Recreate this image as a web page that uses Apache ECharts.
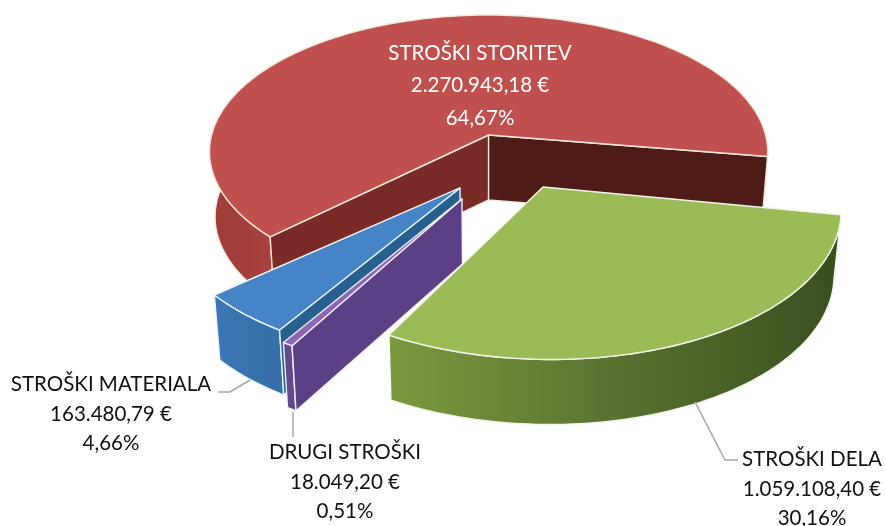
<!DOCTYPE html>
<html>
<head>
<meta charset="utf-8">
<style>
  html, body { margin: 0; padding: 0; background: #fff; }
  #chart { width: 886px; height: 526px; }
</style>
</head>
<body>
<div id="chart"></div>
<script src="https://cdn.jsdelivr.net/npm/echarts@6/dist/echarts.min.js"></script>
<script>
// drawing order: far slice first, green last because it sits over the purple edge
const names = ['STROŠKI STORITEV', 'STROŠKI MATERIALA', 'DRUGI STROŠKI', 'STROŠKI DELA'];
const amounts = [2270943.18, 163480.79, 18049.20, 1059108.40];
const amountLabels = ['2.270.943,18 €', '163.480,79 €', '18.049,20 €', '1.059.108,40 €'];
const percentLabels = ['64,67%', '4,66%', '0,51%', '30,16%'];

// pie projection: disc plane seen in perspective, anchored on the red slice tip
const view = { x: 488.6, y: 135, rx: 277, ry: 134.7, persp: 0.1227, depth: 65, floor: 0.98 };

// look of each slice, same order as names
const looks = [
  {
    start: 136.2, tip: [0, 0], stretch: 1, top: '#c0504d', edge: '#efe8dc',
    outer: ['#9d3c38', '#a8423e'],
    sides: ['start', 'end'], sideFill: ['#7a2a27', '#4f1b16'],
    textX: 480, textY: 85.5, lineHeight: 32.5, color: '#fff'
  },
  {
    start: 122.4, tip: [-0.0985, 0.375], stretch: 1.012, top: '#4584c6', edge: '#eef3f8',
    outer: ['#3b77b5', '#366fa8'],
    sides: ['start'], sideFill: ['#25608f'],
    textX: 111, textY: 414, lineHeight: 29.5, color: '#111',
    leader: [[250, 380], [230, 392], [218, 392]]
  },
  {
    start: 120.3, tip: [-0.0908, 0.449], stretch: 1, top: '#8a68b4', edge: '#f3eef8',
    outer: ['#5f4a8c', '#5f4a8c'],
    sides: ['start'], sideFill: ['#5c4086'],
    textX: 345, textY: 482, lineHeight: 29.5, color: '#111',
    leader: [[293, 412], [293, 437]]
  },
  {
    start: 10.4, tip: [0.1876, 0.3686], stretch: 1.015, top: '#9abb56', edge: '#f2f5ea',
    outer: ['#7b9a3f', '#587330', '#3a4e1e'],
    sides: [], sideFill: [],
    textX: 812, textY: 489, lineHeight: 29.5, color: '#111',
    leader: [[695, 402], [725, 460], [738, 460]]
  }
];

const total = amounts.reduce((a, b) => a + b, 0);

// disc coordinates -> screen, floor=true gives the lower rim of the slab
function project(u, v, floor) {
  const s = 1 / (1 - view.persp * v);
  let x = view.rx * u * s;
  const y = view.ry * v * s;
  if (floor) x *= view.floor;
  return [view.x + x, view.y + y + (floor ? view.depth : 0)];
}

function rimPoint(look, deg, floor) {
  const a = deg * Math.PI / 180;
  return project(look.tip[0] + look.stretch * Math.cos(a), look.tip[1] + look.stretch * Math.sin(a), floor);
}

function rimPoints(look, from, to, floor) {
  const pts = [];
  const steps = Math.max(4, Math.ceil(Math.abs(to - from) / 1.5));
  for (let i = 0; i <= steps; i++) {
    pts.push(rimPoint(look, from + (to - from) * i / steps, floor));
  }
  return pts;
}

function poly(points, fill, stroke, width) {
  return {
    type: 'polygon',
    shape: { points: points },
    style: { fill: fill, stroke: stroke, lineWidth: width === undefined ? 1.4 : width, lineJoin: 'round' }
  };
}

function renderSlice(params, api) {
  const i = params.dataIndex;
  const look = looks[i];
  const sweep = api.value(1) / total * 360;
  const from = look.start;
  const to = from + sweep;
  const tipTop = project(look.tip[0], look.tip[1], false);
  const tipLow = project(look.tip[0], look.tip[1], true);
  const children = [];

  // outer rim, only the part that faces the viewer
  const rimEnd = i === 0 ? 200 : to;
  const rimTop = rimPoints(look, from, rimEnd, false);
  const rimLow = rimPoints(look, from, rimEnd, true).reverse();
  const stops = look.outer.map((c, k) => ({ offset: k / (look.outer.length - 1), color: c }));
  const rimFill = new echarts.graphic.LinearGradient(0, 0, 1, 0, stops);
  children.push(poly(rimTop.concat(rimLow), rimFill, look.edge));

  // cut faces
  look.sides.forEach((side, k) => {
    const deg = side === 'start' ? from : to;
    children.push(poly([tipTop, rimPoint(look, deg, false), rimPoint(look, deg, true), tipLow], look.sideFill[k], look.edge));
  });

  // top face
  children.push(poly([tipTop].concat(rimPoints(look, from, to, false)), look.top, look.edge));

  if (look.leader) {
    children.push({
      type: 'polyline',
      shape: { points: look.leader },
      style: { fill: null, stroke: '#a6a6a6', lineWidth: 1.5 }
    });
  }

  children.push({
    type: 'text',
    style: {
      x: look.textX,
      y: look.textY,
      text: names[i] + '\n' + amountLabels[i] + '\n' + percentLabels[i],
      font: '20.5px Lato',
      lineHeight: look.lineHeight,
      fill: look.color,
      align: 'center',
      verticalAlign: 'middle'
    },
    z2: 10
  });
  return { type: 'group', children: children };
}

const chart = echarts.init(document.getElementById('chart'));
chart.setOption({
  animation: false,
  backgroundColor: '#fff',
  xAxis: { show: false, min: 0, max: 1 },
  yAxis: { show: false, min: 0, max: 1 },
  grid: { left: 0, right: 0, top: 0, bottom: 0 },
  series: [{
    type: 'custom',
    coordinateSystem: 'none',
    renderItem: renderSlice,
    data: amounts.map((v, i) => [i, v])
  }]
});
</script>
</body>
</html>
